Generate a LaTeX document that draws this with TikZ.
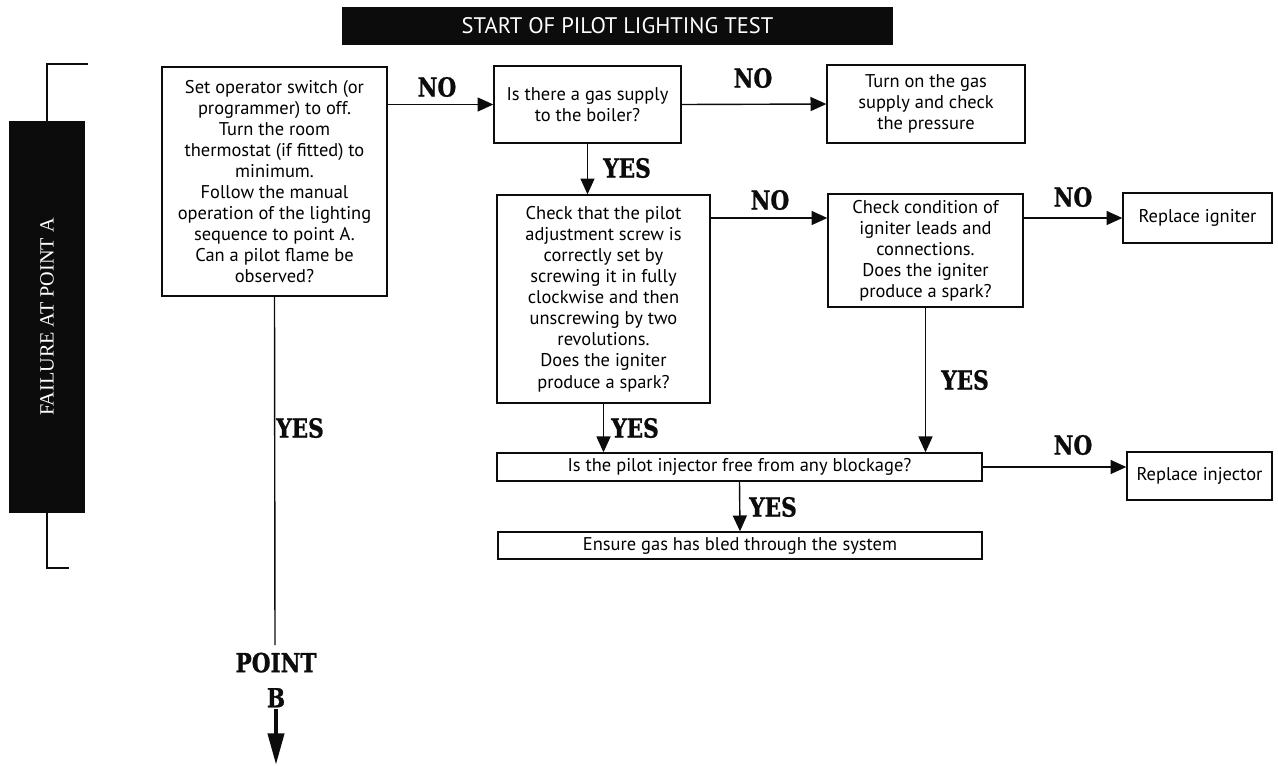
\documentclass[tikz,border=0pt]{standalone}
\usepackage{fontspec}
\setmainfont{PT Sans}
\newfontfamily\slabfont[FakeStretch=0.82,FakeBold=1]{DejaVu Serif}
\newfontfamily\capsfont{Liberation Serif}
\usetikzlibrary{arrows.meta,positioning,calc}
\definecolor{ink}{RGB}{12,12,12}
\tikzset{
  >={Triangle[length=9pt,width=8pt]},
  box/.style={draw=ink,thick,align=center,inner sep=2pt,
    font=\fontsize{10.5}{12}\selectfont},
  banner/.style={fill=ink,text=white,inner sep=0pt,
    font=\fontsize{12.8}{14}\selectfont},
  answer/.style={font=\slabfont\bfseries\fontsize{15}{20}\selectfont,text=ink,align=center},
  flow/.style={->,thick,draw=ink},
  bracket/.style={draw=ink,semithick},
}

\begin{document}
\begin{tikzpicture}[x=0.02cm,y=-0.02cm]
  \useasboundingbox (0,0) rectangle (1278,765);
  % banners
  \node[banner,minimum width=11.02cm,minimum height=0.76cm] (title) at (617.5,26) {START OF PILOT LIGHTING TEST};
  \node[banner,rotate=90,minimum width=7.84cm,minimum height=1.52cm,font=\capsfont\fontsize{11.5}{12}\selectfont] (side) at (47,317) {FAILURE AT POINT A};
  \coordinate (btop) at (88,64);
  \coordinate (bbot) at (69,568);
  \draw[bracket] (btop) -| (side.east);
  \draw[bracket] (bbot) -| (side.west);

  % boxes
  \node[box,minimum width=4.5cm,minimum height=4.58cm] (setop) at (274.5,181.5)
    {Set operator switch (or\\programmer) to off.\\Turn the room\\thermostat (if fitted) to\\minimum.\\Follow the manual\\operation of the lighting\\sequence to point A.\\Can a pilot flame be\\observed?};
  \node[box,minimum width=3.74cm,minimum height=1.54cm] (gas) at (587.5,104.5)
    {Is there a gas supply\\to the boiler?};
  \node[box,minimum width=3.96cm,minimum height=1.56cm] (turnon) at (926,104)
    {Turn on the gas\\supply and check\\the pressure};
  \node[box,minimum width=4.26cm,minimum height=4.16cm] (screw) at (603.5,299)
    {Check that the pilot\\adjustment screw is\\correctly set by\\screwing it in fully\\clockwise and then\\unscrewing by two\\revolutions.\\Does the igniter\\produce a spark?};
  \node[box,minimum width=3.9cm,minimum height=2.26cm] (leads) at (925.5,250.5)
    {Check condition of\\igniter leads and\\connections.\\Does the igniter\\produce a spark?};
  \node[box,minimum width=2.98cm,minimum height=1cm] (igniter) at (1197.5,218) {Replace igniter};
  \node[box,minimum width=9.7cm,minimum height=0.56cm] (block) at (739.5,467)
    {Is the pilot injector free from any blockage?};
  \node[box,minimum width=2.9cm,minimum height=0.96cm] (injector) at (1199.5,476) {Replace injector};
  \node[box,minimum width=9.68cm,minimum height=0.54cm] (bled) at (740,545.5)
    {Ensure gas has bled through the system};

  % connectors
  \draw[flow] (setop.east |- gas.west) -- (gas.west);
  \draw[flow] (gas.east) -- (turnon.west);
  \draw[flow] (gas.south) -- (gas.south |- screw.north);
  \draw[flow] (screw.east |- igniter.west) -- (leads.west |- igniter.west);
  \draw[flow] (leads.east |- igniter.west) -- (igniter.west);
  \draw[flow] (leads.south) -- (leads.south |- block.north);
  \draw[flow] (screw.south) -- (screw.south |- block.north);
  \draw[flow] (block.east) -- (injector.west |- block.east);
  \draw[flow] (block.south) -- (bled.north);

  % answers
  \node[answer] (no1) at (437,87) {NO};
  \node[answer] (no2) at (753,78) {NO};
  \node[answer] (yes1) at (627,168) {YES};
  \node[answer] (no3) at (770,200) {NO};
  \node[answer] (no4) at (1073,197) {NO};
  \node[answer] (yes2) at (965,380) {YES};
  \node[answer] (yes3) at (635,428) {YES};
  \node[answer] (no5) at (1073,445) {NO};
  \node[answer] (yes4) at (773,507) {YES};
  \node[answer] (yes5) at (300,428) {YES};

  % on to point B
  \coordinate (lineend) at (275,645);
  \coordinate (tip) at (276,765);
  \draw[ink,thick] (setop.south) -- (lineend);
  \node[answer,inner sep=1pt] (pointb) at (276,680) {POINT\\B};
  \draw[-{Triangle[length=18pt,width=9pt]},ink,line width=2.6pt] (pointb.south) -- (tip);
\end{tikzpicture}
\end{document}
